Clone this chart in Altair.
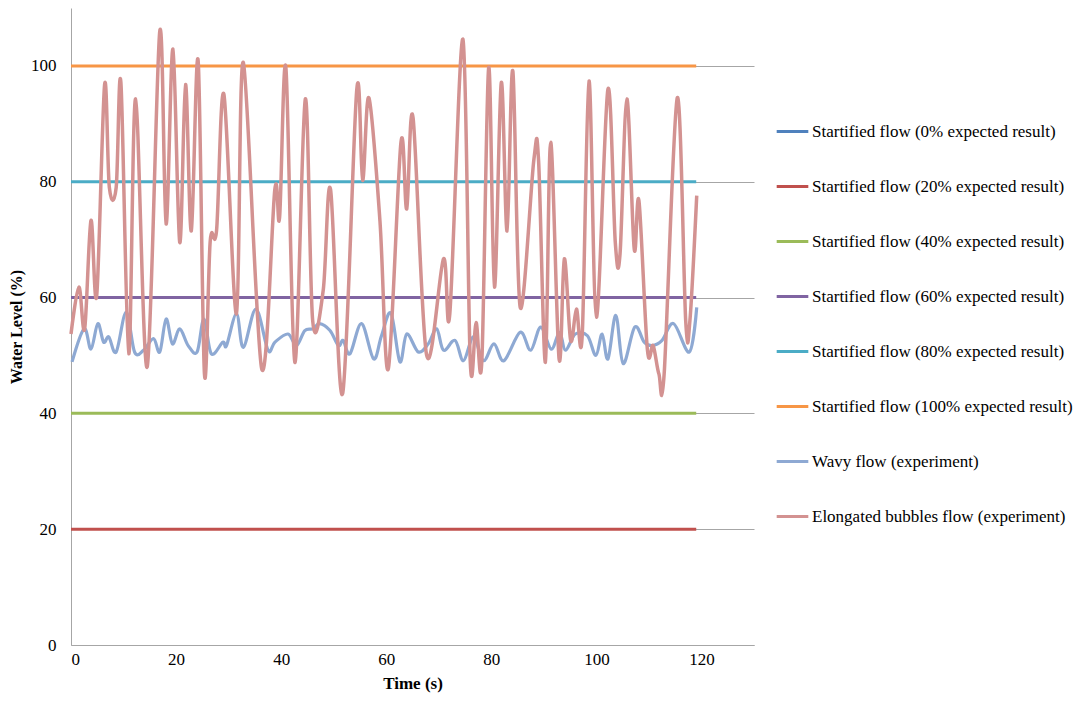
import altair as alt
import pandas as pd

series_names = [
    "Startified flow (0% expected result)",
    "Startified flow (20% expected result)",
    "Startified flow (40% expected result)",
    "Startified flow (60% expected result)",
    "Startified flow (80% expected result)",
    "Startified flow (100% expected result)",
    "Wavy flow (experiment)",
    "Elongated bubbles flow (experiment)",
]
series_colors = ["#4F81BD", "#C0504D", "#9BBB59", "#8064A2", "#4BACC6", "#F79646", "#8EA9D3", "#D39291"]

# expected levels (horizontal lines) drawn from 0 to 119 s
expected_levels = [20, 40, 60, 80, 100]
expected_names = series_names[1:6]
expected_t = [0, 119]

wavy_t = [0.2, 2.5, 3.8, 5.1, 6.2, 7.2, 8.6, 10.5, 12.1, 13.8, 15.7, 16.9, 18.1, 19.3, 20.7, 22.3,
          24.0, 25.3, 26.7, 28.9, 29.6, 31.5, 32.8, 35.2, 37.5, 38.8, 41.3, 42.9, 44.5, 46.1, 47.3,
          49.3, 50.9, 51.8, 53.1, 55.3, 57.6, 59.1, 60.9, 62.6, 63.9, 66.1, 68.0, 69.6, 70.9, 73.1,
          74.7, 76.6, 78.5, 80.5, 82.4, 85.5, 87.5, 89.4, 91.4, 93.0, 94.1, 96.0, 98.3, 99.9, 101.1,
          102.2, 103.7, 105.1, 107.3, 109.1, 110.6, 112.5, 114.7, 117.7, 119.1]
wavy_v = [48.9, 54.6, 51.1, 55.5, 52.3, 53.2, 50.6, 57.5, 50.6, 50.9, 52.9, 50.6, 56.3, 52.0, 54.6, 51.7,
          50.6, 56.3, 50.3, 52.3, 51.7, 57.2, 51.4, 58.0, 50.9, 52.3, 53.7, 51.7, 54.3, 54.6, 55.5,
          54.3, 51.7, 52.6, 50.3, 55.5, 49.4, 53.4, 57.3, 48.9, 53.7, 50.6, 52.0, 54.6, 50.9, 52.6,
          49.1, 53.2, 49.1, 52.0, 49.1, 54.0, 50.9, 54.9, 51.1, 54.0, 50.9, 53.7, 53.4, 50.0, 53.7,
          49.4, 56.9, 48.6, 54.9, 52.3, 51.7, 52.6, 55.5, 50.6, 58.3]

bubble_t = [0.0, 1.5, 2.6, 3.8, 4.9, 6.4, 7.3, 8.6, 9.5, 11.0, 12.3, 14.5, 16.9, 18.1, 19.4, 20.7,
            21.8, 22.9, 24.2, 25.4, 26.5, 27.7, 29.1, 31.5, 32.8, 36.3, 38.8, 39.7, 40.9, 42.6, 44.6,
            46.0, 48.0, 49.4, 51.7, 54.4, 55.5, 56.7, 58.8, 60.4, 62.8, 63.9, 65.1, 67.7, 70.9, 72.1,
            74.6, 76.0, 77.1, 78.2, 79.5, 80.6, 81.9, 83.0, 84.1, 85.5, 88.1, 89.0, 90.3, 91.3, 92.9,
            93.9, 95.1, 96.2, 97.3, 98.6, 100.0, 102.2, 103.6, 104.5, 105.8, 107.2, 108.1, 109.7, 110.8,
            111.9, 112.9, 115.4, 117.0, 117.8, 119.1]
bubble_v = [53.7, 61.8, 54.6, 73.3, 60.4, 96.8, 79.0, 79.0, 97.1, 50.3, 94.3, 48.0, 106.0, 72.7, 102.9, 69.5,
            96.8, 71.5, 100.9, 46.8, 69.8, 71.5, 95.1, 57.2, 100.6, 47.7, 78.7, 73.8, 99.7, 48.8, 94.3,
            56.0, 61.2, 78.7, 43.4, 96.0, 80.2, 94.5, 73.3, 47.7, 86.8, 75.3, 91.1, 50.0, 66.7, 57.2,
            104.6, 48.8, 55.7, 49.1, 99.7, 61.8, 97.1, 71.5, 99.1, 58.3, 83.8, 83.6, 48.8, 86.8, 49.4,
            66.7, 52.6, 58.0, 53.4, 97.4, 56.6, 96.0, 69.5, 67.5, 94.3, 68.4, 76.7, 51.1, 51.7,
            46.8, 46.8, 94.5, 56.0, 56.0, 77.6]

x_ticks = [0, 20, 40, 60, 80, 100, 120]
y_ticks = [0, 20, 40, 60, 80, 100]

rows = []
for name, lvl in zip(expected_names, expected_levels):
    for t in expected_t:
        rows.append({"t": t, "v": lvl, "s": name})
df_exp = pd.DataFrame(rows)
df_wavy = pd.DataFrame({"t": wavy_t, "v": wavy_v, "s": series_names[6]})
df_bub = pd.DataFrame({"t": bubble_t, "v": bubble_v, "s": series_names[7]})

FONT = "Liberation Serif"

x_enc = alt.X("t:Q", scale=alt.Scale(domain=[0, 130], nice=False, zero=False),
              axis=alt.Axis(values=x_ticks, title="Time (s)", grid=False, ticks=False,
                            domainColor="#A6A6A6", labelPadding=6, titlePadding=8))
y_enc = alt.Y("v:Q", scale=alt.Scale(domain=[0, 110], nice=False),
              axis=alt.Axis(values=y_ticks, title="Water Level (%)", grid=True, gridColor="#A6A6A6",
                            ticks=False, domainColor="#A6A6A6", labelPadding=15, titlePadding=6,
                            titleFontSize=16))
color_enc = alt.Color("s:N", scale=alt.Scale(domain=series_names, range=series_colors),
                      sort=series_names,
                      legend=alt.Legend(title=None, orient="none", legendX=704, legendY=106,
                                        symbolType="stroke", symbolSize=1000, symbolStrokeWidth=3,
                                        rowPadding=29, labelOffset=2, labelLimit=400))

base_line = lambda d, w: alt.Chart(d).mark_line(strokeWidth=w, interpolate="cardinal").encode(
    x=x_enc, y=y_enc, color=color_enc, detail="s:N")

chart = alt.layer(
    alt.Chart(df_exp).mark_line(strokeWidth=3).encode(x=x_enc, y=y_enc, color=color_enc, detail="s:N"),
    base_line(df_wavy, 3.2),
    base_line(df_bub, 3.5),
).properties(
    width=683, height=637,
    autosize=alt.AutoSizeParams(type="none"),
    padding={"left": 63, "top": 0, "right": 328, "bottom": 50},
).configure_view(stroke=None).configure_axis(
    labelFont=FONT, titleFont=FONT, labelFontSize=17, titleFontSize=17, labelColor="#000000",
    titleColor="#000000", titleFontWeight="bold"
).configure_legend(labelFont=FONT, labelFontSize=17, labelColor="#000000")

chart.save("out.html", embed_options={"renderer": "svg", "actions": False})
